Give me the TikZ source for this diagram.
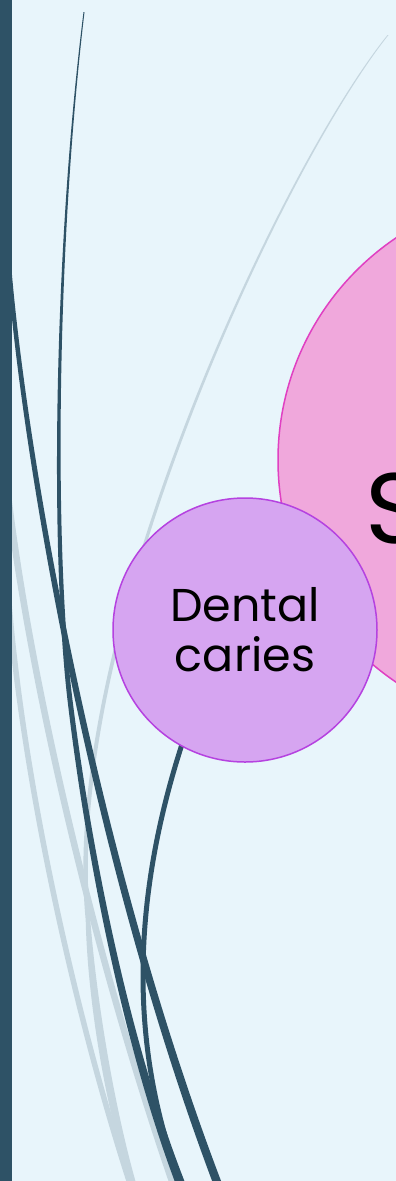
\documentclass[tikz,border=0pt]{standalone}
\usepackage{fontspec}
\setmainfont{Poppins}
\definecolor{bgblue}{HTML}{E8F5FB}
\definecolor{slate}{HTML}{2E5266}
\definecolor{mist}{HTML}{C5D6DF}
\definecolor{lilac}{HTML}{D6A5F1}
\definecolor{lilacline}{HTML}{B542E0}
\definecolor{rose}{HTML}{F0A8DC}
\definecolor{roseline}{HTML}{E040C2}

\begin{document}
\begin{tikzpicture}[x=1pt, y=-1pt,
bubble/.style={circle, draw, line width=1.5pt, inner sep=0pt, align=center, text=black}]
\useasboundingbox (0,0) rectangle (396,1181);
\clip (0,0) rectangle (396,1181);
\fill[bgblue] (0,0) rectangle (396,1181);

% light strands
\draw[mist, line width=5.5pt] (8,590) .. controls (20,760) and (70,1000) .. (132,1190);
\draw[mist, line width=6.5pt] (8,495) .. controls (30,680) and (95,960) .. (175,1190);
\fill[mist] (387.5,35) .. controls (278.8,170) and (58.2,640) .. (85.7,920)
  .. controls (87.5,1000) and (105.5,1110) .. (132,1190)
  -- (138,1190) .. controls (114.5,1110) and (96.5,1000) .. (90.3,920)
  .. controls (61.8,640) and (281.2,170) .. (388.5,35) -- cycle;

% dark strands
\fill[slate] (83.5,12) .. controls (53.7,250) and (50,550) .. (67.5,700)
  .. controls (81.4,820) and (116.5,1030) .. (178,1190)
  -- (188,1190) .. controls (123.5,1030) and (87.4,820) .. (72.5,700)
  .. controls (54,550) and (56.3,250) .. (84.5,12) -- cycle;
\fill[slate] (6,250) .. controls (17.5,430) and (86.5,850) .. (215.5,1190)
  -- (224.5,1190) .. controls (93.5,850) and (22.5,430) .. (10,250) -- cycle;
\draw[slate, line width=5pt] (192,715) .. controls (165,790) and (143,880) .. (143,975)
  .. controls (143,1060) and (160,1130) .. (183,1190);

% side bar
\fill[slate] (0,0) rectangle (12,1181);

% bubbles
\node[bubble, fill=rose, draw=roseline, minimum size=536pt] (big) at (546,460) {};
\node[anchor=base west, font=\fontsize{100}{100}\selectfont] (bigtext) at (362,543) {S};
\node[bubble, fill=lilac, draw=lilacline, minimum size=264pt, font=\fontsize{46}{50}\selectfont] (caries) at (245,630) {Dental\\caries};
\end{tikzpicture}
\end{document}
